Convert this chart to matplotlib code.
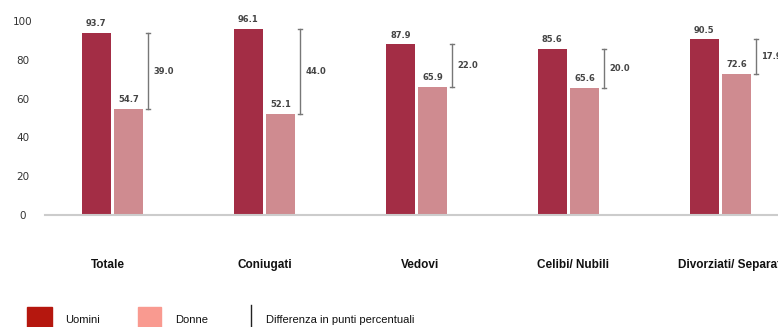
import matplotlib.pyplot as plt
import numpy as np
from matplotlib.patches import Rectangle

plt.rcParams['font.family'] = ['Liberation Sans', 'DejaVu Sans']

categorie = ['Totale', 'Coniugati', 'Vedovi', 'Celibi/ Nubili', 'Divorziati/ Separati']
uomini = [93.7, 96.1, 87.9, 85.6, 90.5]
donne = [54.7, 52.1, 65.9, 65.6, 72.6]
differenza = [39.0, 44.0, 22.0, 20.0, 17.9]

col_u = '#a32d45'
col_d = '#cf8b90'

fig = plt.figure(figsize=(7.78, 3.27), dpi=100)
ax = fig.add_axes([45 / 778, 112 / 327, 733 / 778, 194 / 327])

x = np.arange(len(categorie))
w = 0.19
ax.bar(x - 0.107, uomini, w, color=col_u)
ax.bar(x + 0.107, donne, w, color=col_d)

for i in range(len(categorie)):
    ax.text(x[i] - 0.107, uomini[i] + 2.5, f'{uomini[i]:.1f}', ha='center', va='bottom',
            fontsize=6, color='#444444', fontweight='bold', family='DejaVu Sans')
    ax.text(x[i] + 0.107, donne[i] + 2.5, f'{donne[i]:.1f}', ha='center', va='bottom',
            fontsize=6, color='#444444', fontweight='bold', family='DejaVu Sans')
    # barra della differenza tra uomini e donne
    xd = x[i] + 0.234
    ax.plot([xd, xd], [donne[i], uomini[i]], color='#777777', lw=1, clip_on=False)
    ax.plot([xd - 0.012, xd + 0.012], [uomini[i], uomini[i]], color='#777777', lw=1, clip_on=False)
    ax.plot([xd - 0.012, xd + 0.012], [donne[i], donne[i]], color='#777777', lw=1, clip_on=False)
    ax.text(xd + 0.035, (uomini[i] + donne[i]) / 2, f'{differenza[i]:.1f}', ha='left', va='center',
            fontsize=6, color='#444444', fontweight='bold', family='DejaVu Sans')

# etichette delle categorie sotto l'asse (l'ultima esce dal bordo destro)
spost = [-0.03, 0, 0.02, 0.03, 0.07]
for i, c in enumerate(categorie):
    ax.text(x[i] + spost[i], -25.8, c, ha='center', va='center', fontsize=8.5,
            fontweight='bold', color='#111111', clip_on=False)

ax.set_xlim(-0.444, 4.378)
ax.set_ylim(0, 100)
ax.set_yticks([0, 20, 40, 60, 80, 100])
ax.set_xticks([])
ax.tick_params(axis='y', length=0, pad=16, labelsize=7.5, labelcolor='#333333')
for lab in ax.get_yticklabels():
    lab.set_ha('center')
    lab.set_family('DejaVu Sans')

for s in ['top', 'right', 'left']:
    ax.spines[s].set_visible(False)
ax.spines['bottom'].set_color('#cccccc')
ax.spines['bottom'].set_linewidth(1.5)

# legenda in basso
fig.patches.append(Rectangle((27 / 778, -0.02), 25 / 778, 0.081, transform=fig.transFigure,
                             color='#b5170e', figure=fig))
fig.text(65 / 778, 0.021, 'Uomini', fontsize=8, va='center', color='#111111')
fig.patches.append(Rectangle((138 / 778, -0.02), 23 / 778, 0.081, transform=fig.transFigure,
                             color='#f99a90', figure=fig))
fig.text(175 / 778, 0.021, 'Donne', fontsize=8, va='center', color='#111111')
fig.add_artist(plt.Line2D([251 / 778, 251 / 778], [0, 0.068], transform=fig.transFigure,
                          color='#222222', lw=1))
fig.text(266 / 778, 0.021, 'Differenza in punti percentuali', fontsize=8, va='center', color='#111111')

plt.savefig('out.png', dpi=100)
